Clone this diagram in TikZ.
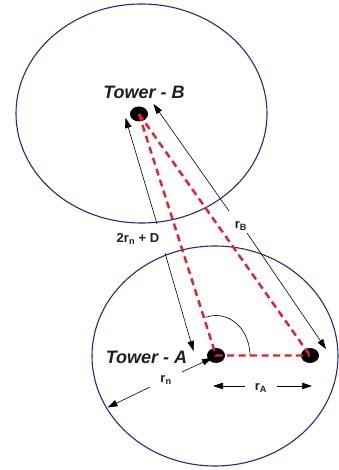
\documentclass[tikz,border=0pt]{standalone}
\usepackage{fontspec}
\setmainfont{Liberation Sans}
\usetikzlibrary{shapes.geometric,arrows.meta}
\definecolor{ringblue}{RGB}{40,40,140}
\definecolor{linkred}{RGB}{232,30,40}
\tikzset{
  ring/.style={draw=ringblue,line width=1.1pt},
  towerdot/.style={ellipse,fill=black,minimum width=18pt,minimum height=15pt,inner sep=0pt},
  link/.style={draw=linkred,line width=2.4pt,dash pattern=on 7pt off 4.5pt},
  dimarrow/.style={draw=black,line width=0.6pt,-{Triangle[length=10pt,width=6.5pt]}},
  towerlabel/.style={font=\fontsize{18}{20}\selectfont\bfseries\itshape,text=black!88,inner sep=0pt},
  dimlabel/.style={font=\fontsize{13}{15}\selectfont\bfseries,text=black!88,inner sep=0pt}
}
\begin{document}
\begin{tikzpicture}[x=1pt,y=1pt]
\useasboundingbox (0,0) rectangle (338,470);
% coverage circles
\draw[ring] (141.5,356.5) ellipse [x radius=125.5,y radius=109.5];
\draw[ring] (215,114) ellipse [x radius=123,y radius=110];
% towers
\node[towerdot] (B) at (139,356) {};
\node[towerdot] (A) at (216,114.5) {};
\node[towerdot] (C) at (310,114.5) {};
% labels
\node[towerlabel] (lB) at (144,378) {Tower - B};
\node[towerlabel] (lA) at (146.5,113) {Tower - A};
\node[dimlabel] (lD) at (138,231) {2r\textsubscript{n} + D};
\node[dimlabel] (lRB) at (241,244) {r\textsubscript{B}};
\node[dimlabel] (lRn) at (166,90) {r\textsubscript{n}};
\node[dimlabel] (lRA) at (261,82) {r\textsubscript{A}};
% angle arc
\draw[black,line width=0.6pt] (A.center) ++(34,0) arc[start angle=0,end angle=107.7,x radius=34,y radius=40];
% red dashed links
\draw[link] (B.center) -- (A.center) -- (C.center);
\draw[link] (B.center) -- (C.center);
% dimension arrows
\coordinate (d1s) at (157,246);
\coordinate (d1e) at (125.5,352);
\coordinate (d2s) at (165,217);
\coordinate (d2e) at (193.5,119);
\draw[dimarrow] (d1s) -- (d1e);
\draw[dimarrow] (d2s) -- (d2e);
\coordinate (b1s) at (229,259);
\coordinate (b1e) at (153.5,366);
\coordinate (b2s) at (247,237);
\coordinate (b2e) at (326,121);
\draw[dimarrow] (b1s) -- (b1e);
\draw[dimarrow] (b2s) -- (b2e);
\coordinate (n1s) at (182,98);
\coordinate (n1e) at (212,112);
\coordinate (n2s) at (150,83);
\coordinate (n2e) at (107.5,62.5);
\draw[dimarrow] (n1s) -- (n1e);
\draw[dimarrow] (n2s) -- (n2e);
\coordinate (a1s) at (245,84);
\coordinate (a1e) at (213,84);
\coordinate (a2s) at (277,84);
\coordinate (a2e) at (312,84);
\draw[dimarrow] (a1s) -- (a1e);
\draw[dimarrow] (a2s) -- (a2e);
\end{tikzpicture}
\end{document}
